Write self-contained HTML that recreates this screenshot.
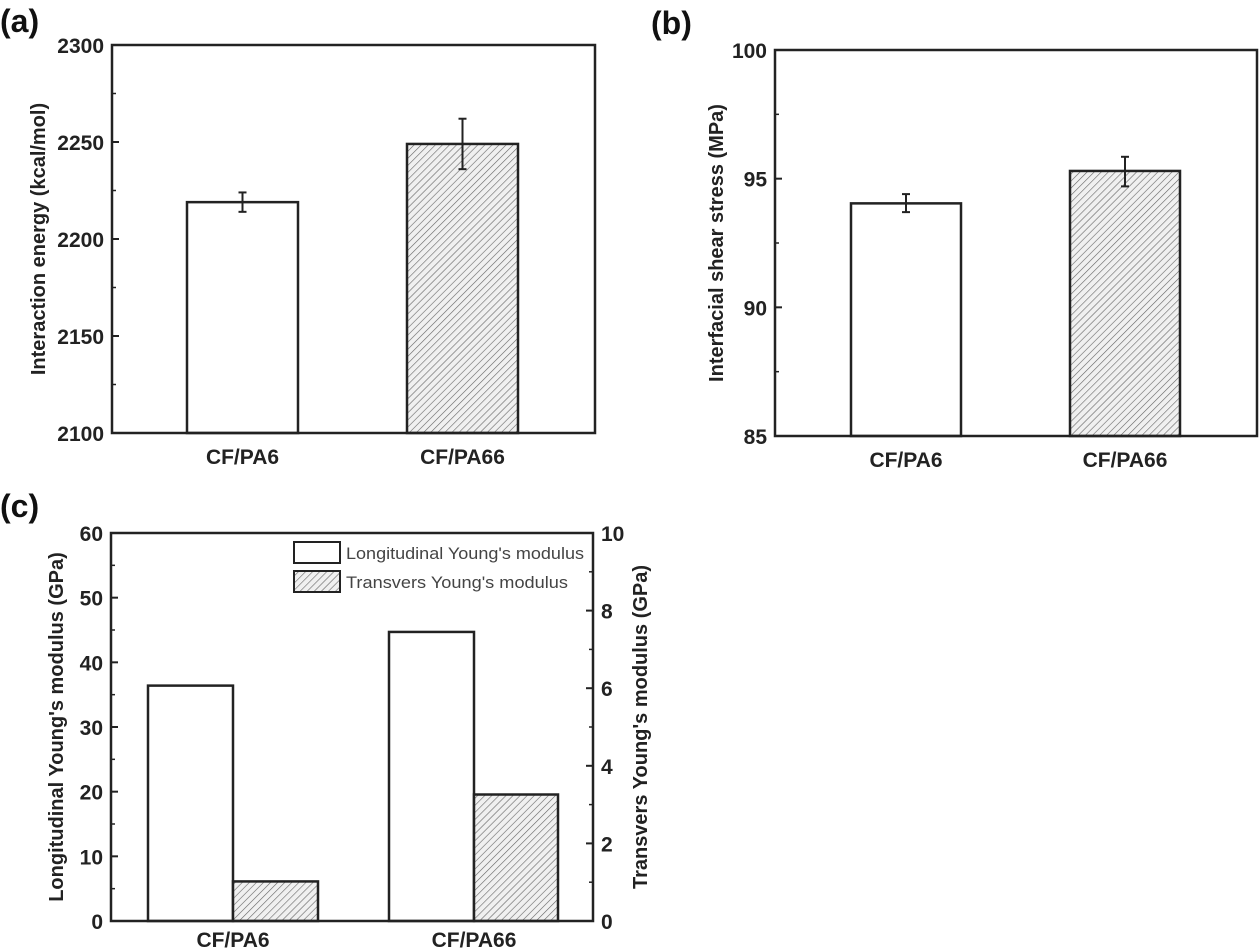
<!DOCTYPE html>
<html><head><meta charset="utf-8"><style>
html,body{margin:0;padding:0;background:#fff}
svg{display:block;font-family:"Liberation Sans",Arial,sans-serif}
.tk{font-size:21px;font-weight:bold;fill:#222}
.ti{font-size:20px;font-weight:bold;fill:#222}
.pl{font-size:32px;font-weight:bold;fill:#111}
</style></head><body>
<svg id="fig" width="1260" height="948" viewBox="0 0 1260 948">
<defs>
<pattern id="hatch" patternUnits="userSpaceOnUse" width="5" height="5" patternTransform="rotate(45)">
<rect width="5" height="5" fill="#f0f0f0"/>
<line x1="0" y1="0" x2="0" y2="5" stroke="#666" stroke-width="1.2"/>
</pattern>
</defs>
<g id="root"></g>
</svg>
<script>
// Panel (a)
const catsA = ["CF/PA6", "CF/PA66"];
const valsA = [2219, 2249];
const errLoA = [2214, 2236];
const errHiA = [2224, 2262];
const ticksA = [2100, 2150, 2200, 2250, 2300];
// Panel (b)
const catsB = ["CF/PA6", "CF/PA66"];
const valsB = [94.04, 95.3];
const errLoB = [93.7, 94.7];
const errHiB = [94.4, 95.85];
const ticksB = [85, 90, 95, 100];
// Panel (c)
const catsC = ["CF/PA6", "CF/PA66"];
const longC = [36.4, 44.7];
const transC = [1.02, 3.26];
const ticksCL = [0, 10, 20, 30, 40, 50, 60];
const ticksCR = [0, 2, 4, 6, 8, 10];

const NS = "http://www.w3.org/2000/svg";
const root = document.getElementById("root");
function mk(tag, attrs, parent, txt) {
  const e = document.createElementNS(NS, tag);
  for (const k in attrs) e.setAttribute(k, attrs[k]);
  if (txt !== undefined) e.textContent = txt;
  (parent || root).appendChild(e);
  return e;
}
function scale(d0, d1, r0, r1) { return v => r0 + (v - d0) * (r1 - r0) / (d1 - d0); }

function panelBar(o) {
  const g = mk("g", {});
  
  
  const y = scale(o.ticks[0], o.ticks[o.ticks.length - 1], o.y1, o.y0);
  o.vals.forEach((v, i) => {
    const b = mk("rect", { x: o.bx[i][0], y: y(v), width: o.bx[i][1] - o.bx[i][0], height: o.y1 - y(v),
      fill: i === 1 ? "url(#hatch)" : "#fff", stroke: "#222", "stroke-width": 2.5 }, g);
    
    
    const cx = (o.bx[i][0] + o.bx[i][1]) / 2;
    const eg = mk("g", { stroke: "#222", "stroke-width": 2 }, g);
    
    
    mk("line", { x1: cx, x2: cx, y1: y(o.hi[i]), y2: y(o.lo[i]) }, eg);
    mk("line", { x1: cx - 4, x2: cx + 4, y1: y(o.hi[i]), y2: y(o.hi[i]) }, eg);
    mk("line", { x1: cx - 4, x2: cx + 4, y1: y(o.lo[i]), y2: y(o.lo[i]) }, eg);
    const t = mk("text", { x: cx, y: o.y1 + 31, "text-anchor": "middle", class: "tk" }, g, o.cats[i]);
    
    
  });
  const f = mk("rect", { x: o.x0, y: o.y0, width: o.x1 - o.x0, height: o.y1 - o.y0, fill: "none", stroke: "#222", "stroke-width": 2.5 }, g);
  
  
  for (let i = 0; i < o.ticks.length; i++) {
    const v = o.ticks[i], yy = y(v);
    mk("line", { x1: o.x0, x2: o.x0 + 7, y1: yy, y2: yy, stroke: "#222", "stroke-width": 2 }, g);
    const t = mk("text", { x: o.x0 - 8, y: yy + 8, "text-anchor": "end", class: "tk" }, g, String(v));
    
    
    if (i < o.ticks.length - 1) {
      const m = (v + o.ticks[i + 1]) / 2;
      mk("line", { x1: o.x0, x2: o.x0 + 4, y1: y(m), y2: y(m), stroke: "#222", "stroke-width": 1.5 }, g);
    }
  }
  const yt = mk("text", { x: o.tx, y: (o.y0 + o.y1) / 2, "text-anchor": "middle", class: "ti",
    transform: `rotate(-90 ${o.tx} ${(o.y0 + o.y1) / 2})` }, g, o.title);
  
  
  const pl = mk("text", { x: o.lx, y: o.ly, class: "pl" }, g, o.label);
  
  
}

panelBar({ name: "panel-a", cats: catsA, vals: valsA, lo: errLoA, hi: errHiA, ticks: ticksA,
  x0: 112, x1: 595, y0: 45, y1: 433, bx: [[187, 298], [407, 518]],
  title: "Interaction energy (kcal/mol)", tx: 45, label: "(a)", lx: 0, ly: 32 });
panelBar({ name: "panel-b", cats: catsB, vals: valsB, lo: errLoB, hi: errHiB, ticks: ticksB,
  x0: 775, x1: 1257, y0: 50, y1: 436, bx: [[851, 961], [1070, 1180]],
  title: "Interfacial shear stress (MPa)", tx: 723, label: "(b)", lx: 651, ly: 34 });

(function () {
  const x0 = 111, x1 = 593, y0 = 533, y1 = 921;
  const g = mk("g", {});
  
  
  const yl = scale(0, 60, y1, y0), yr = scale(0, 10, y1, y0);
  const bx = [[148, 233, 318], [389, 474, 558]];
  catsC.forEach((c, i) => {
    const b1 = mk("rect", { x: bx[i][0], y: yl(longC[i]), width: bx[i][1] - bx[i][0], height: y1 - yl(longC[i]), fill: "#fff", stroke: "#222", "stroke-width": 2.5 }, g);
    
    
    const b2 = mk("rect", { x: bx[i][1], y: yr(transC[i]), width: bx[i][2] - bx[i][1], height: y1 - yr(transC[i]), fill: "url(#hatch)", stroke: "#222", "stroke-width": 2.5 }, g);
    
    
    const t = mk("text", { x: bx[i][1], y: 947, "text-anchor": "middle", class: "tk" }, g, c);
    
    
  });
  const f = mk("rect", { x: x0, y: y0, width: x1 - x0, height: y1 - y0, fill: "none", stroke: "#222", "stroke-width": 2.5 }, g);
  
  
  ticksCL.forEach((v, i) => {
    mk("line", { x1: x0, x2: x0 + 7, y1: yl(v), y2: yl(v), stroke: "#222", "stroke-width": 2 }, g);
    if (i < ticksCL.length - 1) { const m = yl(v + 5); mk("line", { x1: x0, x2: x0 + 4, y1: m, y2: m, stroke: "#222", "stroke-width": 1.5 }, g); }
    const t = mk("text", { x: x0 - 8, y: yl(v) + 8, "text-anchor": "end", class: "tk" }, g, String(v));
    
    
  });
  ticksCR.forEach((v, i) => {
    mk("line", { x1: x1, x2: x1 - 7, y1: yr(v), y2: yr(v), stroke: "#222", "stroke-width": 2 }, g);
    if (i < ticksCR.length - 1) { const m = yr(v + 1); mk("line", { x1: x1, x2: x1 - 4, y1: m, y2: m, stroke: "#222", "stroke-width": 1.5 }, g); }
    const t = mk("text", { x: x1 + 8, y: yr(v) + 8, "text-anchor": "start", class: "tk" }, g, String(v));
    
    
  });
  const my = (y0 + y1) / 2;
  const t1 = mk("text", { x: 63, y: my, "text-anchor": "middle", class: "ti", transform: `rotate(-90 63 ${my})` }, g, "Longitudinal Young's modulus (GPa)");
  
  
  const t2 = mk("text", { x: 647, y: my, "text-anchor": "middle", class: "ti", transform: `rotate(-90 647 ${my})` }, g, "Transvers Young's modulus (GPa)");
  
  
  const pl = mk("text", { x: 0, y: 517, class: "pl" }, g, "(c)");
  
  
  const lg = mk("g", {}, g);
  
  
  const e1 = mk("g", {}, lg);
  
  
  mk("rect", { x: 294, y: 542, width: 46, height: 21, fill: "#fff", stroke: "#222", "stroke-width": 2 }, e1);
  mk("text", { x: 346, y: 559, "font-size": 17, fill: "#444", textLength: 238, lengthAdjust: "spacingAndGlyphs" }, e1, "Longitudinal Young's modulus");
  const e2 = mk("g", {}, lg);
  
  
  mk("rect", { x: 294, y: 571, width: 46, height: 21, fill: "url(#hatch)", stroke: "#222", "stroke-width": 2 }, e2);
  mk("text", { x: 346, y: 588, "font-size": 17, fill: "#444", textLength: 222, lengthAdjust: "spacingAndGlyphs" }, e2, "Transvers Young's modulus");
})();
</script>
</body></html>
